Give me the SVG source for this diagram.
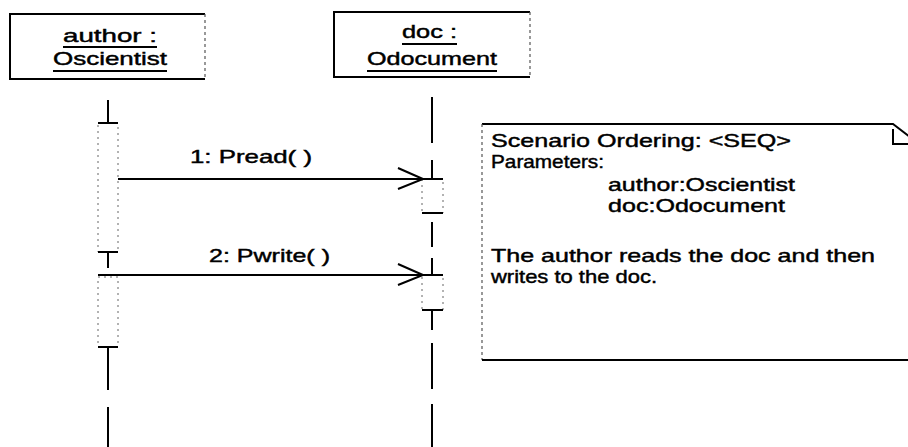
<svg xmlns="http://www.w3.org/2000/svg" width="908" height="447" viewBox="0 0 908 447">
  <style>
    .bg { fill: #ffffff; }
    .txt { font-family: "Liberation Sans", Arial, sans-serif; font-size: 19px; fill: #000; stroke: #000; stroke-width: 0.45; }
    .obj { fill: none; stroke: #000; stroke-width: 2; }
    .side { fill: none; stroke: #555; stroke-width: 1.2; stroke-dasharray: 3 3; }
    .ul { stroke: #000; stroke-width: 2; }
    .life { stroke: #000; stroke-width: 2; fill: none; }
    .act { fill: #fff; stroke: #666; stroke-width: 1; stroke-dasharray: 2 4; }
    .actEdge { stroke: #000; stroke-width: 2; }
    .msg { stroke: #000; stroke-width: 1.8; fill: none; marker-end: url(#openArrow); }
    .note { fill: none; stroke: #000; stroke-width: 2; }
  </style>
  <defs>
    <!-- open "V" head; tip sits 20px before the line end so the line runs into the activation -->
    <marker id="openArrow" markerUnits="userSpaceOnUse" markerWidth="50" markerHeight="24" refX="45" refY="11" orient="auto" overflow="visible">
      <path d="M0,0 L25,11 L0,21" fill="none" stroke="#000" stroke-width="2"/>
    </marker>
  </defs>

  <rect class="bg" x="0" y="0" width="908" height="447"/>

  <!-- object: author -->
  <g id="author">
    <path class="obj" d="M205,14 H10 V79 H205"/>
    <line class="side" x1="205" y1="14" x2="205" y2="79"/>
    <text class="txt" x="63" y="42" textLength="94" lengthAdjust="spacingAndGlyphs">author :</text>
    <line class="ul" x1="63" y1="47" x2="157" y2="47"/>
    <text class="txt" x="53" y="65" textLength="114" lengthAdjust="spacingAndGlyphs">Oscientist</text>
    <line class="ul" x1="53" y1="71" x2="167" y2="71"/>
  </g>

  <!-- object: doc -->
  <g id="doc">
    <path class="obj" d="M530,12 H334 V77 H530"/>
    <line class="side" x1="530" y1="12" x2="530" y2="77"/>
    <text class="txt" x="402" y="38" textLength="55" lengthAdjust="spacingAndGlyphs">doc :</text>
    <line class="ul" x1="402" y1="44" x2="457" y2="44"/>
    <text class="txt" x="367" y="65" textLength="130" lengthAdjust="spacingAndGlyphs">Odocument</text>
    <line class="ul" x1="367" y1="71" x2="497" y2="71"/>
  </g>

  <!-- lifeline and activations of author -->
  <g id="author-lifeline">
    <line class="life" x1="108" y1="100" x2="108" y2="123"/>
    <rect class="act" x="98" y="123" width="20" height="129"/>
    <line class="actEdge" x1="98" y1="123" x2="118" y2="123"/>
    <line class="actEdge" x1="98" y1="252" x2="118" y2="252"/>
    <line class="life" x1="108" y1="252" x2="108" y2="268"/>
    <rect class="act" x="98" y="277" width="20" height="70"/>
    <line class="actEdge" x1="98" y1="347" x2="118" y2="347"/>
    <line class="life" x1="108" y1="347" x2="108" y2="390"/>
    <line class="life" x1="108" y1="407" x2="108" y2="447"/>
  </g>

  <!-- lifeline and activations of doc -->
  <g id="doc-lifeline">
    <line class="life" x1="432" y1="97" x2="432" y2="143"/>
    <line class="life" x1="432" y1="160" x2="432" y2="179"/>
    <rect class="act" x="422" y="179" width="21" height="34"/>
    <line class="actEdge" x1="422" y1="213" x2="443" y2="213"/>
    <line class="life" x1="432" y1="222" x2="432" y2="247"/>
    <line class="life" x1="432" y1="258" x2="432" y2="275"/>
    <rect class="act" x="422" y="275" width="21" height="35"/>
    <line class="actEdge" x1="422" y1="310" x2="443" y2="310"/>
    <line class="life" x1="432" y1="310" x2="432" y2="330"/>
    <line class="life" x1="432" y1="343" x2="432" y2="389"/>
    <line class="life" x1="432" y1="404" x2="432" y2="447"/>
  </g>

  <!-- messages -->
  <g id="connectors">
    <line class="msg" x1="118" y1="179" x2="443" y2="179"/>
    <text class="txt" x="190" y="163" textLength="122" lengthAdjust="spacingAndGlyphs">1: Pread( )</text>
    <line class="msg" x1="98" y1="275" x2="443" y2="275"/>
    <text class="txt" x="209" y="262" textLength="121" lengthAdjust="spacingAndGlyphs">2: Pwrite( )</text>
  </g>

  <!-- scenario note with folded corner -->
  <g id="note">
    <path class="note" d="M482,124 H893 L910,137"/>
    <path class="note" d="M893,129 V144 H910" stroke-width="1.5"/>
    <line class="side" x1="482" y1="124" x2="482" y2="360"/>
    <line class="note" x1="482" y1="360" x2="910" y2="360"/>
    <text class="txt" x="491" y="147" textLength="300" lengthAdjust="spacingAndGlyphs">Scenario Ordering: &lt;SEQ&gt;</text>
    <text class="txt" x="491" y="168" textLength="113" lengthAdjust="spacingAndGlyphs">Parameters:</text>
    <text class="txt" x="608" y="191" textLength="187" lengthAdjust="spacingAndGlyphs">author:Oscientist</text>
    <text class="txt" x="608" y="212" textLength="177" lengthAdjust="spacingAndGlyphs">doc:Odocument</text>
    <text class="txt" x="491" y="262" textLength="384" lengthAdjust="spacingAndGlyphs">The author reads the doc and then</text>
    <text class="txt" x="491" y="283" textLength="166" lengthAdjust="spacingAndGlyphs">writes to the doc.</text>
  </g>
</svg>
